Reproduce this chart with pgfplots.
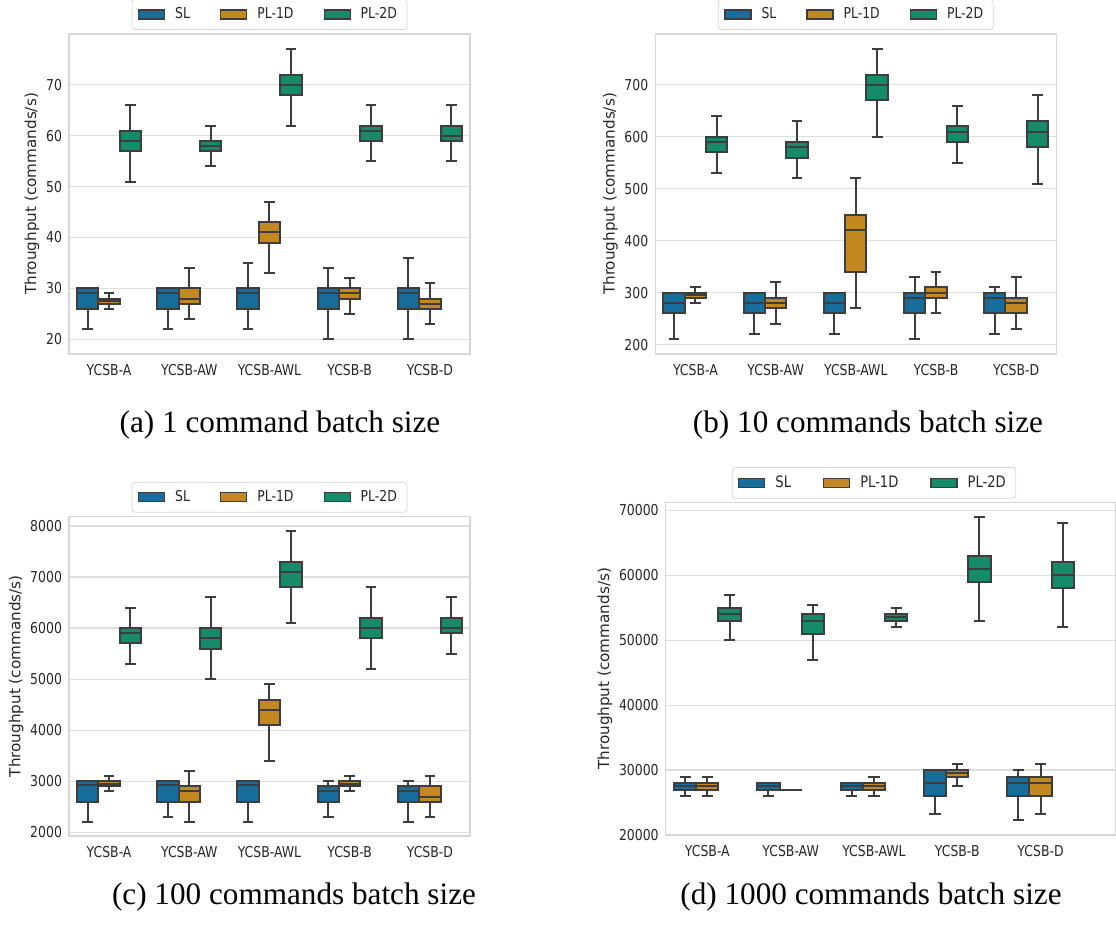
\documentclass[border=0pt]{standalone}
\usepackage{pgfplots}
\pgfplotsset{compat=1.18}
\usepackage{fontspec}
\setmainfont{DejaVu Sans}
\newfontfamily\chartfont[FakeStretch=0.83]{DejaVu Sans}
\newfontfamily\capfont{Liberation Serif}
\definecolor{slblue}{HTML}{176D9C}
\definecolor{plorange}{HTML}{C38820}
\definecolor{plgreen}{HTML}{158B6A}
\definecolor{edgec}{HTML}{3D3D3D}
\definecolor{tickc}{HTML}{262626}
\definecolor{gridc}{HTML}{DEDEDE}
\definecolor{framec}{HTML}{D6D6D6}

% \bx{position}{lower whisker}{Q1}{median}{Q3}{upper whisker}{colour}
\newcommand{\bx}[7]{%
  \pgfmathsetmacro\bxl{#1-0.1333}\pgfmathsetmacro\bxr{#1+0.1333}%
  \pgfmathsetmacro\bxcl{#1-0.0667}\pgfmathsetmacro\bxcr{#1+0.0667}%
  \edef\bxtmp{%
    \noexpand\addplot[forget plot, draw=edgec, fill=#7, line width=1pt, line join=miter]
      coordinates {(\bxl,#3) (\bxr,#3) (\bxr,#5) (\bxl,#5)} -- cycle;
    \noexpand\addplot[forget plot, draw=edgec, line width=1pt, unbounded coords=jump]
      coordinates {(\bxl,#4) (\bxr,#4) (nan,nan) (#1,#3) (#1,#2) (nan,nan)
        (\bxcl,#2) (\bxcr,#2) (nan,nan) (#1,#5) (#1,#6) (nan,nan) (\bxcl,#6) (\bxcr,#6)};
  }%
  \bxtmp}

\pgfplotsset{panel/.style={
  scale only axis, xmin=-0.5, xmax=4.5, xtick={0,1,2,3,4},
  xticklabels={YCSB-A,YCSB-AW,YCSB-AWL,YCSB-B,YCSB-D},
  ymajorgrids, major grid style={gridc, line width=0.6pt},
  axis line style={framec, line width=0.6pt},
  major tick length=0pt,
  tick label style={font=\chartfont\fontsize{7.5}{9}\selectfont, text=tickc},
  xticklabel style={yshift=-1.5pt},
  /pgf/number format/assume math mode=true,
  scaled y ticks=false,
  yticklabel style={/pgf/number format/1000 sep={}},
  ylabel={Throughput (commands/s)},
  ylabel style={font=\fontsize{7.6}{9}\selectfont, text=tickc, yshift=-3.5pt},
  legend columns=3,
  legend image code/.code={\draw[##1, draw=edgec, line width=0.6pt, sharp corners] (0pt,-2.25pt) rectangle (13pt,2.25pt);},
  legend style={at={(0.5,1)}, anchor=south, yshift=2pt, draw=framec, rounded corners=1.5pt,
    font=\chartfont\fontsize{7.5}{9}\selectfont, text=tickc, inner xsep=3pt, inner ysep=2pt,
    /tikz/every odd column/.append style={column sep=3pt},
    /tikz/every even column/.append style={column sep=13pt}},
}}

\begin{document}
\begin{tikzpicture}
\useasboundingbox (0,0) rectangle (558pt,465.5pt);

% ---------------- (a) 1 command ----------------
\begin{axis}[panel, at={(34.5pt,448.5pt)}, anchor=north west, width=200.5pt, height=160pt,
  ymin=17.1, ymax=80, ytick={20,30,40,50,60,70}]
\addlegendimage{fill=slblue}\addlegendentry{SL}
\addlegendimage{fill=plorange}\addlegendentry{PL-1D}
\addlegendimage{fill=plgreen}\addlegendentry{PL-2D}
\bx{-0.2667}{22}{26}{29}{30}{30}{slblue}
\bx{0.7333}{22}{26}{29}{30}{30}{slblue}
\bx{1.7333}{22}{26}{29}{30}{35}{slblue}
\bx{2.7333}{20}{26}{29}{30}{34}{slblue}
\bx{3.7333}{20}{26}{29}{30}{36}{slblue}
\bx{0}{26}{27}{27.6}{28}{29}{plorange}
\bx{1}{24}{27}{28}{30}{34}{plorange}
\bx{2}{33}{39}{41}{43}{47}{plorange}
\bx{3}{25}{28}{29}{30}{32}{plorange}
\bx{4}{23}{26}{27}{28}{31}{plorange}
\bx{0.2667}{51}{57}{59}{61}{66}{plgreen}
\bx{1.2667}{54}{57}{58}{59}{62}{plgreen}
\bx{2.2667}{62}{68}{70}{72}{77}{plgreen}
\bx{3.2667}{55}{59}{61}{62}{66}{plgreen}
\bx{4.2667}{55}{59}{60}{62}{66}{plgreen}
\end{axis}

% ---------------- (b) 10 commands ----------------
\begin{axis}[panel, at={(327.65pt,448.5pt)}, anchor=north west, width=200.5pt, height=160pt,
  ymin=182, ymax=798, ytick={200,300,400,500,600,700}]
\addlegendimage{fill=slblue}\addlegendentry{SL}
\addlegendimage{fill=plorange}\addlegendentry{PL-1D}
\addlegendimage{fill=plgreen}\addlegendentry{PL-2D}
\bx{-0.2667}{210}{260}{280}{300}{300}{slblue}
\bx{0.7333}{220}{260}{280}{300}{300}{slblue}
\bx{1.7333}{220}{260}{280}{300}{300}{slblue}
\bx{2.7333}{210}{260}{290}{300}{330}{slblue}
\bx{3.7333}{220}{260}{290}{300}{310}{slblue}
\bx{0}{280}{290}{295}{300}{310}{plorange}
\bx{1}{240}{270}{280}{290}{320}{plorange}
\bx{2}{270}{340}{420}{450}{520}{plorange}
\bx{3}{260}{290}{300}{310}{340}{plorange}
\bx{4}{230}{260}{280}{290}{330}{plorange}
\bx{0.2667}{530}{570}{590}{600}{640}{plgreen}
\bx{1.2667}{520}{560}{580}{590}{630}{plgreen}
\bx{2.2667}{600}{670}{700}{720}{770}{plgreen}
\bx{3.2667}{550}{590}{610}{620}{660}{plgreen}
\bx{4.2667}{510}{580}{610}{630}{680}{plgreen}
\end{axis}

% ---------------- (c) 100 commands ----------------
\begin{axis}[panel, at={(34.5pt,207.15pt)}, anchor=north west, width=200.5pt, height=159.65pt,
  ymin=1928, ymax=8182, ytick={2000,3000,4000,5000,6000,7000,8000}]
\addlegendimage{fill=slblue}\addlegendentry{SL}
\addlegendimage{fill=plorange}\addlegendentry{PL-1D}
\addlegendimage{fill=plgreen}\addlegendentry{PL-2D}
\bx{-0.2667}{2200}{2600}{2920}{3000}{3000}{slblue}
\bx{0.7333}{2300}{2600}{2920}{3000}{3000}{slblue}
\bx{1.7333}{2200}{2600}{2920}{3000}{3000}{slblue}
\bx{2.7333}{2300}{2600}{2800}{2900}{3000}{slblue}
\bx{3.7333}{2200}{2600}{2800}{2900}{3000}{slblue}
\bx{0}{2800}{2900}{2950}{3000}{3100}{plorange}
\bx{1}{2200}{2600}{2800}{2900}{3200}{plorange}
\bx{2}{3400}{4100}{4400}{4600}{4900}{plorange}
\bx{3}{2800}{2900}{2950}{3000}{3100}{plorange}
\bx{4}{2300}{2600}{2700}{2900}{3100}{plorange}
\bx{0.2667}{5300}{5700}{5900}{6000}{6400}{plgreen}
\bx{1.2667}{5000}{5600}{5800}{6000}{6600}{plgreen}
\bx{2.2667}{6100}{6800}{7100}{7300}{7900}{plgreen}
\bx{3.2667}{5200}{5800}{6000}{6200}{6800}{plgreen}
\bx{4.2667}{5500}{5900}{6000}{6200}{6600}{plgreen}
\end{axis}

% ---------------- (d) 1000 commands ----------------
\begin{axis}[panel, at={(332.85pt,214.15pt)}, anchor=north west, width=225.15pt, height=166.15pt,
  xmax=4.906, ymin=20000, ymax=71200, ytick={20000,30000,40000,50000,60000,70000},
  legend style={at={(0.4626,1)}, font=\chartfont\fontsize{7.9}{9}\selectfont,
    /tikz/every even column/.append style={column sep=14pt}}]
\addlegendimage{fill=slblue}\addlegendentry{SL}
\addlegendimage{fill=plorange}\addlegendentry{PL-1D}
\addlegendimage{fill=plgreen}\addlegendentry{PL-2D}
\bx{-0.2667}{26000}{27000}{27500}{28000}{29000}{slblue}
\bx{0.7333}{26000}{27000}{27500}{28000}{28000}{slblue}
\bx{1.7333}{26000}{27000}{27500}{28000}{28000}{slblue}
\bx{2.7333}{23200}{26000}{28000}{30000}{30000}{slblue}
\bx{3.7333}{22300}{26000}{28000}{29000}{30000}{slblue}
\bx{0}{26000}{27000}{27500}{28000}{29000}{plorange}
\bx{1}{27000}{27000}{27000}{27000}{27000}{plorange}
\bx{2}{26000}{27000}{27500}{28000}{29000}{plorange}
\bx{3}{27500}{29000}{29600}{30000}{31000}{plorange}
\bx{4}{23200}{26000}{28000}{29000}{31000}{plorange}
\bx{0.2667}{50000}{53000}{54000}{55000}{57000}{plgreen}
\bx{1.2667}{47000}{51000}{53000}{54000}{55500}{plgreen}
\bx{2.2667}{52000}{53000}{53600}{54000}{55000}{plgreen}
\bx{3.2667}{53000}{59000}{61000}{63000}{69000}{plgreen}
\bx{4.2667}{52000}{58000}{60000}{62000}{68000}{plgreen}
\end{axis}

% ---------------- captions ----------------
\node[font=\capfont\fontsize{15.6}{18}\selectfont] at (140pt,253pt) {(a) 1 command batch size};
\node[font=\capfont\fontsize{15.6}{18}\selectfont] at (434pt,253pt) {(b) 10 commands batch size};
\node[font=\capfont\fontsize{15.6}{18}\selectfont] at (147pt,17pt) {(c) 100 commands batch size};
\node[font=\capfont\fontsize{15.6}{18}\selectfont] at (435.5pt,17pt) {(d) 1000 commands batch size};
\end{tikzpicture}
\end{document}
